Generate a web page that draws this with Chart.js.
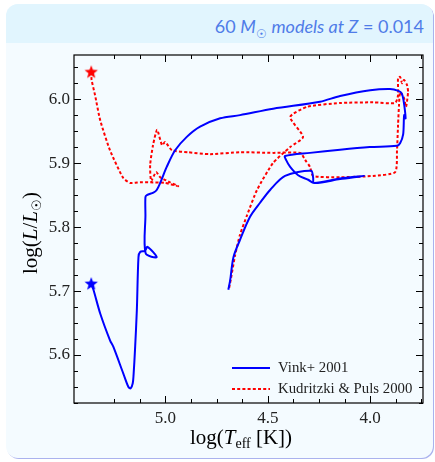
<!DOCTYPE html>
<html>
<head>
<meta charset="utf-8">
<script src="https://cdn.jsdelivr.net/npm/chart.js@4.4.1/dist/chart.umd.min.js"></script>
<style>
html, body { margin: 0; padding: 0; background: #fff; }
#card { position: absolute; left: 6px; top: 4px; width: 427px; height: 454px; border-radius: 12px;
        background: #f4fbff; overflow: hidden; box-shadow: 1px 1px 0 #aab2ee; }
#head { height: 39px; background: #e1f5fe; }
#head span { position: absolute; right: 9px; top: 12px; line-height: 20px; font-family: Lato, sans-serif;
             font-size: 18px; color: #4f7ce8; white-space: nowrap; }
#head sub { font-size: 12px; }
canvas { position: absolute; left: 0; top: 0; }
</style>
</head>
<body>
<div id="card"><div id="head"><span>60 <i>M</i><sub>☉</sub> <i>models at Z</i> = 0.014</span></div></div>
<canvas id="c" width="435" height="462"></canvas>
<script>
// track: log Teff and log L
var blueLogT = [4.693, 4.684, 4.668, 4.636, 4.587, 4.538, 4.489, 4.416, 4.289, 4.279, 4.274, 4.147, 4.030,
  4.147, 4.274, 4.303, 4.352, 4.391, 4.411, 4.416, 4.294, 4.147, 4.002, 3.870, 3.854, 3.839, 3.834, 3.827,
  3.837, 3.846, 3.862, 3.903, 4.000, 4.147, 4.245, 4.474, 4.636, 4.733, 4.831, 4.896, 4.953, 4.994, 5.026,
  5.043, 5.059, 5.091, 5.098, 5.098, 5.097, 5.043, 5.088, 5.100, 5.124, 5.132, 5.140, 5.149, 5.156, 5.160,
  5.170, 5.181, 5.206, 5.255, 5.271, 5.319, 5.352, 5.363];
var blueLogL = [5.702, 5.717, 5.753, 5.780, 5.816, 5.838, 5.858, 5.880, 5.888, 5.878, 5.869, 5.875, 5.880,
  5.876, 5.869, 5.874, 5.881, 5.894, 5.905, 5.911, 5.916, 5.921, 5.925, 5.927, 5.931, 5.945, 5.975, 5.970,
  5.998, 6.009, 6.013, 6.016, 6.014, 6.005, 5.996, 5.985, 5.975, 5.970, 5.957, 5.941, 5.920, 5.894, 5.869,
  5.858, 5.854, 5.850, 5.847, 5.819, 5.759, 5.753, 5.769, 5.763, 5.761, 5.753, 5.670, 5.608, 5.569, 5.556,
  5.548, 5.550, 5.571, 5.613, 5.623, 5.665, 5.702, 5.711];
var redLogT = [4.689, 4.680, 4.660, 4.636, 4.601, 4.553, 4.475, 4.391, 4.328, 4.391, 4.308, 4.147, 3.986,
  3.878, 3.864, 3.864, 3.854, 3.844, 3.835, 3.820, 3.815, 3.825, 3.835, 3.854, 3.859, 3.864, 3.869, 3.878,
  3.986, 4.147, 4.279, 4.294, 4.318, 4.342, 4.475, 4.636, 4.782, 4.890, 4.968, 5.002, 5.017, 5.041, 5.061,
  5.075, 5.070, 5.046, 5.026, 4.978, 4.938, 5.002, 5.075, 5.124, 5.173, 5.207, 5.271, 5.319, 5.344, 5.361, 5.363];
var redLogL = [5.705, 5.720, 5.756, 5.788, 5.819, 5.858, 5.900, 5.925, 5.941, 5.972, 5.988, 5.994, 5.995,
  5.994, 6.006, 6.033, 6.035, 6.025, 6.030, 6.022, 6.011, 5.988, 6.002, 6.011, 5.992, 5.959, 5.920, 5.886,
  5.880, 5.878, 5.880, 5.894, 5.905, 5.916, 5.916, 5.917, 5.914, 5.917, 5.920, 5.933, 5.928, 5.952, 5.928,
  5.897, 5.872, 5.886, 5.878, 5.870, 5.864, 5.869, 5.870, 5.870, 5.869, 5.877, 5.920, 5.967, 6.006, 6.030, 6.042];

var seriesNames = ['Vink+ 2001', 'Kudritzki & Puls 2000'];
var xTicks = [5.0, 4.5, 4.0];
var yTicks = [5.6, 5.7, 5.8, 5.9, 6.0];

var serif = "'Liberation Serif', 'DejaVu Serif', serif";

function toPoints(xs, ys) {
  return xs.map(function (x, i) { return { x: x, y: ys[i] }; });
}

// filled five point star used as point style
function makeStar(color, r) {
  var c = document.createElement('canvas');
  c.width = c.height = r * 2 + 2;
  var g = c.getContext('2d');
  g.fillStyle = color;
  g.beginPath();
  for (var i = 0; i < 10; i++) {
    var a = -Math.PI / 2 + i * Math.PI / 5;
    var rr = i % 2 ? r * 0.42 : r;
    g.lineTo(r + 1 + rr * Math.cos(a), r + 1 + rr * Math.sin(a));
  }
  g.closePath();
  g.fill();
  return c;
}

// draw text pieces with different fonts, centred on cx
function drawRuns(ctx, runs, cx, cy) {
  var w = 0;
  runs.forEach(function (r) { ctx.font = r.f; w += ctx.measureText(r.t).width; });
  var x = cx - w / 2;
  ctx.textAlign = 'left';
  ctx.textBaseline = 'alphabetic';
  runs.forEach(function (r) {
    ctx.font = r.f;
    ctx.fillText(r.t, x, cy + (r.dy || 0));
    x += ctx.measureText(r.t).width;
  });
}

var framePlugin = {
  id: 'frame',
  afterDraw: function (chart) {
    var ctx = chart.ctx, a = chart.chartArea, sx = chart.scales.x, sy = chart.scales.y;
    ctx.save();
    ctx.strokeStyle = '#000';
    ctx.lineWidth = 1.2;
    ctx.strokeRect(a.left, a.top, a.right - a.left, a.bottom - a.top);
    ctx.lineWidth = 1;
    ctx.beginPath();
    // x ticks, major every 0.5 and minor every 0.125
    for (var k = 30; k <= 42; k++) {
      var v = k * 0.125;
      if (v < sx.min || v > sx.max) continue;
      var len = (k % 4 === 0) ? 7 : 4;
      var px = Math.round(sx.getPixelForValue(v)) + 0.5;
      ctx.moveTo(px, a.bottom); ctx.lineTo(px, a.bottom - len);
      ctx.moveTo(px, a.top); ctx.lineTo(px, a.top + len);
    }
    // y ticks, major every 0.1 and minor every 0.025
    for (var j = 221; j <= 243; j++) {
      var w = j * 0.025;
      if (w < sy.min || w > sy.max) continue;
      var ln = (j % 4 === 0) ? 7 : 4;
      var py = Math.round(sy.getPixelForValue(w)) + 0.5;
      ctx.moveTo(a.left, py); ctx.lineTo(a.left + ln, py);
      ctx.moveTo(a.right, py); ctx.lineTo(a.right - ln, py);
    }
    ctx.stroke();

    // axis titles
    ctx.fillStyle = '#000';
    drawRuns(ctx, [
      { t: 'log(', f: '21px ' + serif },
      { t: 'T', f: 'italic 21px ' + serif },
      { t: 'eff', f: '14px ' + serif, dy: 4 },
      { t: ' [K])', f: '21px ' + serif }
    ], 241, 444);
    ctx.save();
    ctx.translate(37, 233);
    ctx.rotate(-Math.PI / 2);
    drawRuns(ctx, [
      { t: 'log(', f: '21px ' + serif },
      { t: 'L', f: 'italic 21px ' + serif },
      { t: '/', f: '21px ' + serif },
      { t: 'L', f: 'italic 21px ' + serif },
      { t: '☉', f: '13px ' + serif, dy: 4 },
      { t: ')', f: '21px ' + serif }
    ], 0, 0);
    ctx.restore();

    // legend
    var rows = chart.data.datasets.filter(function (d) { return d.label; });
    rows.forEach(function (d, i) {
      var yy = 368 + i * 21;
      ctx.beginPath();
      ctx.strokeStyle = d.borderColor;
      ctx.lineWidth = d.borderWidth;
      ctx.setLineDash(d.borderDash || []);
      ctx.moveTo(232, yy); ctx.lineTo(270, yy);
      ctx.stroke();
      ctx.setLineDash([]);
      ctx.font = '14.8px ' + serif;
      ctx.fillStyle = '#222';
      ctx.textBaseline = 'middle';
      ctx.fillText(d.label, 278, yy);
    });
    ctx.restore();
  }
};

var nb = blueLogT.length - 1, nr = redLogT.length - 1;

new Chart(document.getElementById('c'), {
  type: 'scatter',
  data: {
    datasets: [
      { label: seriesNames[0], data: toPoints(blueLogT, blueLogL), showLine: true, borderColor: '#0000ff',
        borderWidth: 2, pointRadius: 0, borderJoinStyle: 'round', tension: 0.3 },
      { label: seriesNames[1], data: toPoints(redLogT, redLogL), showLine: true, borderColor: '#ff0000',
        borderWidth: 2, borderDash: [3, 2.2], pointRadius: 0, tension: 0.2 },
      { data: [{ x: blueLogT[nb], y: blueLogL[nb] }], pointStyle: makeStar('#0000ff', 7), pointRadius: 7 },
      { data: [{ x: redLogT[nr], y: redLogL[nr] }], pointStyle: makeStar('#ff0000', 7), pointRadius: 7 }
    ]
  },
  options: {
    responsive: false,
    animation: false,
    devicePixelRatio: 1,
    layout: { padding: { top: 55, right: 12, left: 0, bottom: 0 } },
    plugins: { legend: { display: false }, tooltip: { enabled: false } },
    scales: {
      x: {
        type: 'linear', reverse: true, min: 3.742, max: 5.447,
        grid: { display: false, drawTicks: false }, border: { display: false },
        ticks: { color: '#222', padding: 5, font: { family: serif, size: 17 },
                 callback: function (v) { return v.toFixed(1); } },
        afterBuildTicks: function (s) { s.ticks = xTicks.map(function (v) { return { value: v }; }); },
        afterFit: function (s) { s.height = 59; }
      },
      y: {
        type: 'linear', min: 5.525, max: 6.069,
        grid: { display: false, drawTicks: false }, border: { display: false },
        ticks: { color: '#222', padding: 4, font: { family: serif, size: 17 },
                 callback: function (v) { return v.toFixed(1); } },
        afterBuildTicks: function (s) { s.ticks = yTicks.map(function (v) { return { value: v }; }); },
        afterFit: function (s) { s.width = 74; }
      }
    }
  },
  plugins: [framePlugin]
});
</script>
</body>
</html>
